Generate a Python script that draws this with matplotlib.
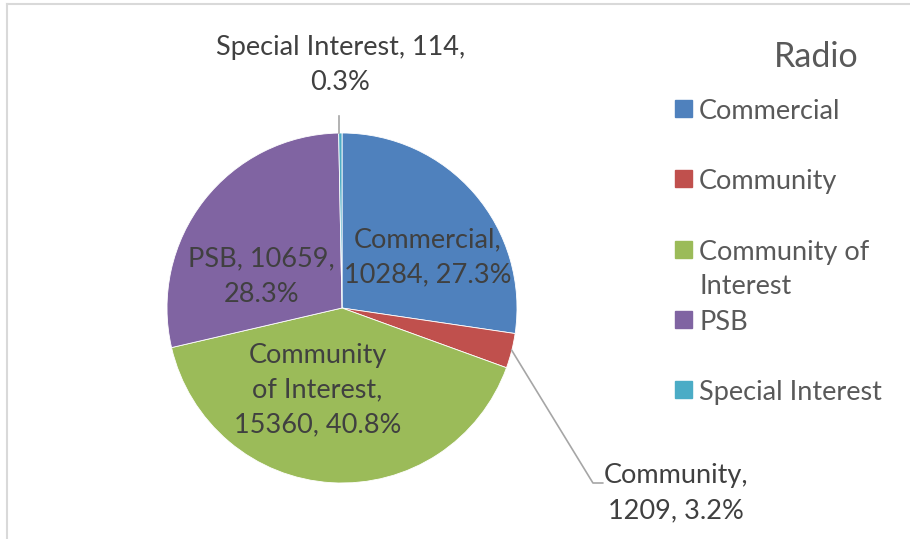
import matplotlib.pyplot as plt
from matplotlib.patches import Rectangle
from matplotlib.lines import Line2D

# radio licences by type
categories = ["Commercial", "Community", "Community of Interest", "PSB", "Special Interest"]
legend_labels = ["Commercial", "Community", "Community of\nInterest", "PSB", "Special Interest"]
values = [10284, 1209, 15360, 10659, 114]
colors = ["#4F81BD", "#C0504D", "#9BBB59", "#8064A2", "#4BACC6"]

# label text blocks (wrapped like the chart) and where they sit, in pie radii
label_text = ["Commercial,\n{v}, {p}", "Community,\n{v}, {p}", "Community\nof Interest,\n{v}, {p}",
              "PSB, {v},\n{p}", "Special Interest, {v},\n{p}"]
label_pos = [(0.49, 0.29), (1.91, -1.06), (-0.14, -0.47), (-0.46, 0.18), (-0.01, 1.39)]

plt.rcParams['font.family'] = ['Lato', 'DejaVu Sans']

W, H = 910, 539
fig = plt.figure(figsize=(W / 100, H / 100), dpi=100)

cx, cy, r = 342, 308, 175
ax = fig.add_axes([(cx - r) / W, 1 - (cy + r) / H, 2 * r / W, 2 * r / H])
ax.pie(values, colors=colors, startangle=90, counterclock=False, radius=1,
       wedgeprops=dict(edgecolor="white", linewidth=0.6))
ax.set_xlim(-1, 1)
ax.set_ylim(-1, 1)
ax.set_aspect("equal")
ax.axis("off")

total = sum(values)
for i, v in enumerate(values):
    pct = "{:.1f}%".format(100 * v / total)
    txt = label_text[i].format(v=v, p=pct)
    ax.text(label_pos[i][0], label_pos[i][1], txt, ha="center", va="center",
            fontsize=19.5, color="#404040", linespacing=1.5, clip_on=False)

# leader lines for the two small slices
ax.add_line(Line2D([0.97, 1.434, 1.49], [-0.242, -1.0, -1.0], color="#A6A6A6", lw=1.2, clip_on=False))
ax.add_line(Line2D([-0.02, -0.02], [1.0, 1.097], color="#A6A6A6", lw=1.2, clip_on=False))

# legend drawn by hand so the wrapped entry keeps the spacing
fig.text(816 / W, 1 - 57 / H, "Radio", ha="center", va="center", fontsize=24.5, color="#595959")
y0, step = 109, 70.3
for i, lab in enumerate(legend_labels):
    y = y0 + i * step
    fig.add_artist(Rectangle((675 / W, 1 - (y + 8) / H), 17 / W, 17 / H,
                             transform=fig.transFigure, color=colors[i]))
    fig.text(699 / W, 1 - (y - 10) / H, lab, ha="left", va="top", fontsize=19.5,
             color="#595959", linespacing=1.45)

# chart frame (only top and left edges fall inside the image)
fig.add_artist(Line2D([6.5 / W, 6.5 / W], [0, 1 - 4 / H], transform=fig.transFigure, color="#D9D9D9", lw=1.5))
fig.add_artist(Line2D([6.5 / W, 1], [1 - 4 / H, 1 - 4 / H], transform=fig.transFigure, color="#D9D9D9", lw=1.5))

fig.savefig("out.png", dpi=100)
